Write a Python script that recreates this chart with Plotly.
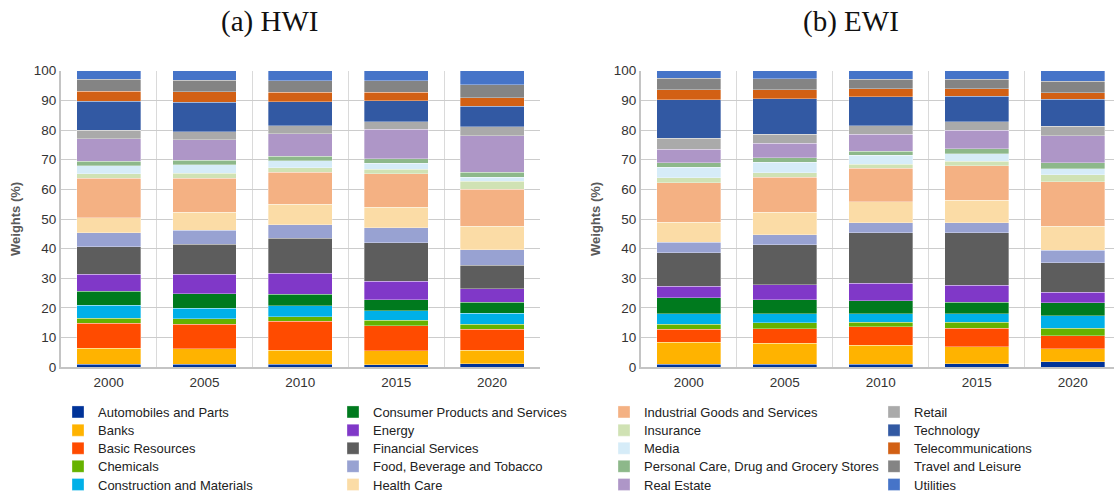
import plotly.graph_objects as go

years = ["2000", "2005", "2010", "2015", "2020"]

sectors = [
    "Automobiles and Parts", "Banks", "Basic Resources", "Chemicals",
    "Construction and Materials", "Consumer Products and Services", "Energy",
    "Financial Services", "Food, Beverage and Tobacco", "Health Care",
    "Industrial Goods and Services", "Insurance", "Media",
    "Personal Care, Drug and Grocery Stores", "Real Estate", "Retail",
    "Technology", "Telecommunications", "Travel and Leisure", "Utilities",
]

colors = [
    "#003399", "#FFB300", "#FF4B00", "#66B200", "#00B0E8", "#007A1E",
    "#8038C8", "#5D5D5D", "#98A2D2", "#FBDCA6", "#F4B183", "#D0E2B4",
    "#D6ECF8", "#8DB88A", "#AE96C7", "#AAAAAA", "#3259A3", "#D26014",
    "#848484", "#4674C8",
]

# HWI weights (%) per sector, years 2000..2020
hwi_auto = [1.0, 1.0, 1.1, 0.9, 1.2]
hwi_banks = [5.4, 5.2, 4.6, 4.6, 4.5]
hwi_basic = [8.4, 8.4, 9.9, 8.5, 7.1]
hwi_chem = [1.7, 1.7, 1.4, 1.8, 1.8]
hwi_constr = [4.4, 3.6, 3.7, 3.3, 3.7]
hwi_consumer = [4.8, 4.9, 3.9, 3.6, 3.6]
hwi_energy = [5.6, 6.5, 7.1, 6.3, 4.6]
hwi_fin = [9.3, 10.2, 11.8, 13.0, 7.9]
hwi_food = [4.8, 4.7, 4.6, 5.0, 5.2]
hwi_health = [5.0, 6.1, 6.9, 6.9, 8.0]
hwi_indus = [13.3, 11.5, 10.8, 11.3, 12.5]
hwi_insur = [1.5, 1.6, 1.4, 1.6, 2.7]
hwi_media = [2.7, 2.9, 2.4, 2.0, 1.3]
hwi_personal = [1.5, 1.5, 1.5, 1.5, 1.7]
hwi_realestate = [7.6, 7.0, 7.7, 9.9, 12.3]
hwi_retail = [2.9, 2.6, 2.7, 2.6, 3.0]
hwi_tech = [9.8, 10.0, 8.1, 7.1, 6.9]
hwi_telecom = [3.4, 3.5, 3.1, 2.9, 2.9]
hwi_travel = [4.1, 3.9, 3.9, 3.8, 4.3]
hwi_util = [2.8, 3.2, 3.4, 3.4, 4.8]

# EWI weights (%) per sector, years 2000..2020
ewi_auto = [1.1, 1.0, 1.0, 1.2, 1.8]
ewi_banks = [7.3, 7.1, 6.5, 5.8, 4.4]
ewi_basic = [4.4, 4.9, 6.1, 6.1, 4.5]
ewi_chem = [1.8, 2.1, 1.6, 2.1, 2.4]
ewi_constr = [3.4, 2.9, 2.8, 2.8, 4.2]
ewi_consumer = [5.4, 4.7, 4.4, 3.9, 4.4]
ewi_energy = [4.0, 5.1, 5.9, 5.7, 3.6]
ewi_fin = [11.3, 13.5, 17.1, 17.7, 10.0]
ewi_food = [3.5, 3.4, 3.4, 3.5, 4.1]
ewi_health = [6.7, 7.5, 7.1, 7.5, 8.2]
ewi_indus = [13.4, 11.8, 11.2, 11.6, 14.9]
ewi_insur = [1.6, 1.6, 1.4, 1.5, 2.4]
ewi_media = [3.5, 3.6, 3.0, 2.6, 2.0]
ewi_personal = [1.6, 1.5, 1.4, 1.7, 2.0]
ewi_realestate = [4.6, 4.8, 5.7, 6.2, 9.1]
ewi_retail = [3.6, 3.1, 2.9, 2.9, 3.3]
ewi_tech = [13.0, 11.9, 9.8, 8.6, 9.1]
ewi_telecom = [3.3, 3.1, 2.6, 2.5, 2.2]
ewi_travel = [4.0, 3.7, 3.2, 3.2, 3.9]
ewi_util = [2.5, 2.7, 2.9, 2.9, 3.5]

hwi = [hwi_auto, hwi_banks, hwi_basic, hwi_chem, hwi_constr, hwi_consumer,
       hwi_energy, hwi_fin, hwi_food, hwi_health, hwi_indus, hwi_insur,
       hwi_media, hwi_personal, hwi_realestate, hwi_retail, hwi_tech,
       hwi_telecom, hwi_travel, hwi_util]
ewi = [ewi_auto, ewi_banks, ewi_basic, ewi_chem, ewi_constr, ewi_consumer,
       ewi_energy, ewi_fin, ewi_food, ewi_health, ewi_indus, ewi_insur,
       ewi_media, ewi_personal, ewi_realestate, ewi_retail, ewi_tech,
       ewi_telecom, ewi_travel, ewi_util]

W, H = 1114, 493
FONT = "Liberation Sans, Arial, sans-serif"


def px_x(p):
    return p / W


def px_y(p):
    return 1 - p / H


def legend_id(i):
    return "legend" if i == 0 else "legend%d" % (i + 1)


fig = go.Figure()
for i, name in enumerate(sectors):
    lg = legend_id(i)
    fig.add_trace(go.Bar(
        x=years, y=hwi[i], name=name, marker_color=colors[i],
        marker_line=dict(color="rgba(255,255,255,0.55)", width=0.6),
        legendgroup=name, legend=lg, showlegend=True,
        xaxis="x", yaxis="y", hoverinfo="skip"))
    fig.add_trace(go.Bar(
        x=years, y=ewi[i], name=name, marker_color=colors[i],
        marker_line=dict(color="rgba(255,255,255,0.55)", width=0.6),
        legendgroup=name, legend=lg, showlegend=False,
        xaxis="x2", yaxis="y2", hoverinfo="skip"))

y_dom = [px_y(367.3), px_y(70.7)]

xcommon = dict(type="category", tickson="boundaries", showgrid=True,
               gridcolor="#dadada", gridwidth=1, ticks="", showline=True,
               linecolor="#c4c4c4", linewidth=1.5, ticklabelstandoff=2,
               tickfont=dict(family=FONT, size=13.5, color="#333333"))
ycommon = dict(range=[0, 100], tickvals=list(range(0, 101, 10)),
               showgrid=True, gridcolor="#cccccc", gridwidth=1.4,
               showline=True, linecolor="#c4c4c4", linewidth=1.5, ticks="",
               zeroline=False,
               tickfont=dict(family=FONT, size=13.5, color="#333333"))

fig.update_layout(
    width=W, height=H,
    margin=dict(l=0, r=0, t=0, b=0, autoexpand=False),
    paper_bgcolor="white", plot_bgcolor="white",
    barmode="stack", bargap=1/3,
    xaxis=dict(domain=[px_x(60.7), px_x(540)], anchor="y",
               range=[-0.5, 4.5], **xcommon),
    yaxis=dict(domain=y_dom, anchor="x", **ycommon),
    xaxis2=dict(domain=[px_x(640.7), 1.0], anchor="y2",
                range=[-0.5, 4.43], **xcommon),
    yaxis2=dict(domain=y_dom, anchor="x2", **ycommon),
)

col_x = [58, 333, 604, 874]
row_y = [412, 430.2, 448.3, 466.4, 484.5]
for i in range(len(sectors)):
    fig.update_layout(**{legend_id(i): dict(
        x=px_x(col_x[i // 5]), xanchor="left",
        y=px_y(row_y[i % 5]), yanchor="middle",
        orientation="v", bgcolor="rgba(0,0,0,0)", borderwidth=0,
        font=dict(family=FONT, size=13, color="#222222"))})

fig.add_annotation(text="(a) HWI", x=px_x(269), y=px_y(21), xref="paper",
                   yref="paper", showarrow=False, xanchor="center",
                   yanchor="middle",
                   font=dict(family="Liberation Serif, serif", size=29,
                             color="#111111"))
fig.add_annotation(text="(b) EWI", x=px_x(851), y=px_y(21), xref="paper",
                   yref="paper", showarrow=False, xanchor="center",
                   yanchor="middle",
                   font=dict(family="Liberation Serif, serif", size=29,
                             color="#111111"))
for xp in (15, 595):
    fig.add_annotation(text="<b>Weights (%)</b>", x=px_x(xp), y=px_y(219),
                       xref="paper", yref="paper", showarrow=False,
                       textangle=-90, xanchor="center", yanchor="middle",
                       font=dict(family=FONT, size=13, color="#595959"))

fig.write_html("out.html")
